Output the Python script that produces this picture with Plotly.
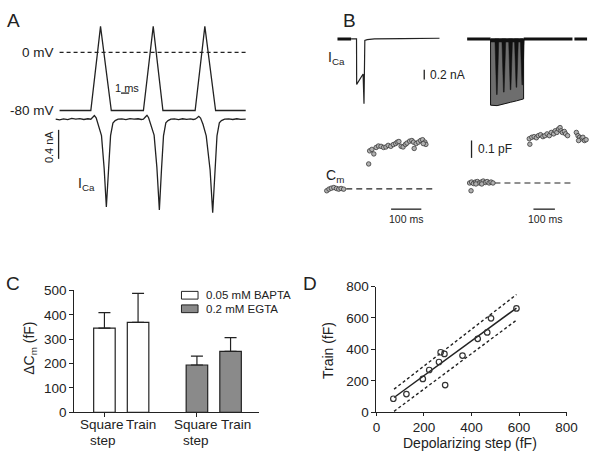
import plotly.graph_objects as go

W, H = 601, 458
FONT = "Liberation Sans, Arial, Helvetica, sans-serif"
INK = "#222222"


def PX(x):
    return x / W


def PY(y):
    return 1 - y / H


# ---------------- Panel A: AP-like voltage train and Ca current ----------------
a_volt_t = [0, 3.86, 5.06, 6.39, 10.36, 11.57, 12.77, 16.75, 17.95, 19.28, 23.0]
a_volt_mv = [-80, -80, 36, -80, -80, 36, -80, -80, 36, -80, -80]
a_zero_t = [0, 23.0]
a_zero_mv = [0, 0]
a_current = [
    (-0.48, 0.0), (0.0, -0.01), (0.5, 0.005), (1.0, -0.006), (1.5, 0.01), (2.0, 0.0),
    (2.5, 0.008), (3.0, -0.004), (3.5, 0.006), (3.86, 0.0), (4.10, 0.027), (4.30, 0.05),
    (4.52, 0.02), (4.78, -0.075), (5.18, -0.227), (5.51, -0.68), (5.78, -1.21), (6.06, -0.68),
    (6.30, -0.227), (6.59, -0.053), (6.87, -0.02), (7.23, 0.0), (7.7, 0.005), (8.2, -0.006),
    (8.7, 0.008), (9.2, 0.0), (9.7, 0.006), (10.1, -0.004), (10.36, 0.0), (10.6, 0.03),
    (10.8, 0.055), (11.0, 0.02), (11.28, -0.07), (11.68, -0.22), (12.02, -0.66), (12.33, -1.25),
    (12.6, -0.68), (12.84, -0.23), (13.13, -0.05), (13.4, -0.02), (13.75, 0.0), (14.2, 0.004),
    (14.7, -0.005), (15.2, 0.006), (15.7, -0.003), (16.2, 0.005), (16.5, -0.004), (16.75, 0.0),
    (17.0, 0.02), (17.2, 0.04), (17.42, 0.015), (17.72, -0.07), (18.12, -0.23), (18.6, -0.7),
    (18.92, -1.29), (19.2, -0.7), (19.45, -0.23), (19.74, -0.05), (20.0, -0.02), (20.4, 0.0),
    (20.9, 0.005), (21.4, -0.004), (21.9, 0.006), (22.4, -0.002), (23.0, 0.0),
]

# ---------------- Panel B left: square step ----------------
bl_hold_t = [-63.5, -18.4]
bl_hold_i = [0.0, 0.0]
bl_current = [
    (-18.4, 0.0), (-0.5, 0.0), (0.0, -0.94), (21.3, -0.726), (24.2, -1.34), (24.8, -0.06),
    (27.0, -0.03), (35.0, -0.015), (59.0, 0.0), (150.0, 0.008), (274.0, 0.014),
]
bl_cm_t = [-99, -91.6, -83.9, -75.5, -66.8, -59.4, -51.6, -43.2,
           39.7, 42.9, 50.3, 56.8, 64.5, 71.9, 80.6, 89.0, 96.8, 104.2, 112.9, 121.3, 129.0,
           134.2, 139.7, 147.1, 153.5, 161.3, 166.5, 175.2, 182.6, 188.1, 190.3, 196.8,
           204.2, 211.6, 218.1, 225.8, 229.0, 220.3]
bl_cm_pf = [-0.012, -0.002, 0.004, 0.008, 0.002, -0.002, 0.002, -0.002,
            0.154, 0.235, 0.244, 0.216, 0.256, 0.265, 0.263, 0.256, 0.259, 0.269, 0.263,
            0.274, 0.280, 0.289, 0.293, 0.263, 0.259, 0.275, 0.283, 0.295, 0.299, 0.289,
            0.250, 0.280, 0.289, 0.299, 0.304, 0.289, 0.275, 0.280]
bl_base_t = [-34.5, 258]
bl_base_pf = [0, 0]

# ---------------- Panel B right: AP train ----------------
br_hold_t = [-107.6, 0, None, 152.5, 376.7, None, 385.7, 443.9]
br_hold_i = [0, 0, None, 0, 0, None, 0, 0]
br_train_t = [0, 0, 30, 60, 92, 120, 152, 152]
br_train_i = [0, -1.37, -1.38, -1.34, -1.31, -1.28, -1.24, 0]
br_spike_t = [29, 61, 92, 119, 146]
br_spike_i = [-1.15, -1.1, -1.05, -1.0, -0.95]
br_cm_t = [-96.4, -87.4, -78.5, -69.5, -60.5, -51.6, -42.6, -33.6, -24.7, -15.7, -6.7, 2.2,
           11.2, -89.7, -67.3, -40.4,
           178.0, 189.7, 200.4, 210.8, 219.7, 230.0, 240.8, 249.8, 260.1, 270.4, 279.4, 290.1,
           297.3, 304.9, 312.6, 319.7, 324.2, 330.5, 339.5, 345.3, 354.3, 180.7, 394.6, 402.2,
           409.4, 417.0, 424.7, 431.8, 439.5, 404.9]
br_cm_pf = [0.0, 0.006, -0.003, 0.006, 0.009, 0.0, 0.006, 0.012, 0.003, 0.009, 0.0, 0.006,
            0.0, -0.048, -0.006, -0.006,
            0.274, 0.283, 0.287, 0.280, 0.293, 0.299, 0.287, 0.293, 0.304, 0.293, 0.313, 0.304,
            0.323, 0.313, 0.334, 0.343, 0.323, 0.313, 0.319, 0.304, 0.293, 0.240, 0.313, 0.293,
            0.283, 0.274, 0.283, 0.263, 0.268, 0.263]
br_base_t = [17.9, 372]
br_base_pf = [0, 0]

# ---------------- Panel C ----------------
c_pos_bapta = [1, 2]
c_pos_egta = [3.75, 4.75]
c_bapta = [345, 369]
c_bapta_err = [64, 119]
c_egta = [194, 250]
c_egta_err = [36, 56]

# ---------------- Panel D ----------------
d_step = [71, 126, 195, 222, 263, 270, 286, 289, 362, 426, 466, 482, 589]
d_train = [86, 116, 212, 269, 320, 382, 371, 173, 361, 467, 508, 598, 661]
d_fit_x = [74, 589]
d_fit_y = [94, 663]
d_upper_y = [147, 749]
d_lower_y = [6, 586]

fig = go.Figure()
line_kw = dict(color=INK, width=1.3)

# A
fig.add_trace(go.Scatter(x=a_zero_t, y=a_zero_mv, mode="lines", xaxis="x", yaxis="y",
                         line=dict(color=INK, width=1.2, dash="4px,3px")))
fig.add_trace(go.Scatter(x=a_volt_t, y=a_volt_mv, mode="lines", xaxis="x", yaxis="y", line=line_kw))
fig.add_trace(go.Scatter(x=[p[0] for p in a_current], y=[p[1] for p in a_current], mode="lines",
                         xaxis="x", yaxis="y2", line=dict(color=INK, width=1.3)))

# B left
fig.add_trace(go.Scatter(x=bl_hold_t, y=bl_hold_i, mode="lines", xaxis="x2", yaxis="y3",
                         line=dict(color="#111", width=3)))
fig.add_trace(go.Scatter(x=[p[0] for p in bl_current], y=[p[1] for p in bl_current], mode="lines",
                         xaxis="x2", yaxis="y3", line=dict(color=INK, width=1.2)))
fig.add_trace(go.Scatter(x=bl_base_t, y=bl_base_pf, mode="lines", xaxis="x2", yaxis="y4",
                         line=dict(color=INK, width=1.2, dash="6px,4px")))
fig.add_trace(go.Scatter(x=bl_cm_t, y=bl_cm_pf, mode="markers", xaxis="x2", yaxis="y4",
                         marker=dict(size=4.5, color="#b0b0b0", line=dict(color="#3a3a3a", width=0.8))))

# B right
fig.add_trace(go.Scatter(x=br_hold_t, y=br_hold_i, mode="lines", xaxis="x3", yaxis="y5",
                         line=dict(color="#111", width=3)))
fig.add_trace(go.Scatter(x=br_train_t, y=br_train_i, mode="lines", fill="toself", fillcolor="#6e6e6e",
                         xaxis="x3", yaxis="y5", line=dict(color="#111", width=1)))
sx, sy = [], []
for t, d in zip(br_spike_t, br_spike_i):
    sx += [t - 9, t + 9, t + 1.5, t - 1.5, t - 9, None]
    sy += [0, 0, d, d, 0, None]
fig.add_trace(go.Scatter(x=sx, y=sy, mode="lines", fill="toself", fillcolor="#111",
                         xaxis="x3", yaxis="y5", line=dict(color="#111", width=0.5)))
fig.add_trace(go.Scatter(x=[0, 152], y=[-0.03, -0.03], mode="lines", xaxis="x3", yaxis="y5",
                         line=dict(color="#111", width=4)))
fig.add_trace(go.Scatter(x=br_base_t, y=br_base_pf, mode="lines", xaxis="x3", yaxis="y6",
                         line=dict(color=INK, width=1.2, dash="6px,4px")))
fig.add_trace(go.Scatter(x=br_cm_t, y=br_cm_pf, mode="markers", xaxis="x3", yaxis="y6",
                         marker=dict(size=4.5, color="#b0b0b0", line=dict(color="#3a3a3a", width=0.8))))

# C
fig.add_trace(go.Bar(x=c_pos_bapta, y=c_bapta, width=0.64, xaxis="x4", yaxis="y7",
                     marker=dict(color="white", line=dict(color=INK, width=1.2)),
                     error_y=dict(type="data", symmetric=False, array=c_bapta_err, arrayminus=[0, 0],
                                  color=INK, thickness=1.2, width=6)))
fig.add_trace(go.Bar(x=c_pos_egta, y=c_egta, width=0.64, xaxis="x4", yaxis="y7",
                     marker=dict(color="#8a8a8a", line=dict(color=INK, width=1.2)),
                     error_y=dict(type="data", symmetric=False, array=c_egta_err, arrayminus=[0, 0],
                                  color=INK, thickness=1.2, width=6)))

# D
fig.add_trace(go.Scatter(x=d_fit_x, y=d_upper_y, mode="lines", xaxis="x5", yaxis="y8",
                         line=dict(color=INK, width=1.4, dash="3px,2.5px")))
fig.add_trace(go.Scatter(x=d_fit_x, y=d_lower_y, mode="lines", xaxis="x5", yaxis="y8",
                         line=dict(color=INK, width=1.4, dash="3px,2.5px")))
fig.add_trace(go.Scatter(x=d_fit_x, y=d_fit_y, mode="lines", xaxis="x5", yaxis="y8",
                         line=dict(color=INK, width=1.5)))
fig.add_trace(go.Scatter(x=d_step, y=d_train, mode="markers", xaxis="x5", yaxis="y8",
                         marker=dict(symbol="circle-open", size=5.5, color="#333", line=dict(width=1.2))))

hidden = dict(visible=False, showgrid=False, zeroline=False, fixedrange=True)
vis = dict(showgrid=False, zeroline=False, showline=True, linecolor=INK, linewidth=1,
           ticks="outside", ticklen=4, tickwidth=1, tickcolor=INK,
           tickfont=dict(family=FONT, size=13.5, color=INK))

fig.update_layout(
    width=W, height=H, margin=dict(l=0, r=0, t=0, b=0),
    paper_bgcolor="white", plot_bgcolor="white", showlegend=False, bargap=0,
    font=dict(family=FONT, color=INK),
    xaxis=dict(hidden, domain=[PX(45), PX(255)], range=[-1.446, 23.855], anchor="y"),
    yaxis=dict(hidden, domain=[PY(111), PY(10)], range=[-85.33, 49.33], anchor="x"),
    yaxis2=dict(hidden, domain=[PY(220), PY(111)], range=[-1.3867, 0.0667], anchor="x"),
    xaxis2=dict(hidden, domain=[PX(325), PX(455)], range=[-118.4, 301.0], anchor="y3"),
    yaxis3=dict(hidden, domain=[PY(110), PY(20)], range=[-1.54, 0.26], anchor="x2"),
    yaxis4=dict(hidden, domain=[PY(200), PY(120)], range=[-0.072, 0.407], anchor="x2"),
    xaxis3=dict(hidden, domain=[PX(465), PX(601)], range=[-152.5, 457.4], anchor="y5"),
    yaxis5=dict(hidden, domain=[PY(110), PY(20)], range=[-1.54, 0.26], anchor="x3"),
    yaxis6=dict(hidden, domain=[PY(200), PY(120)], range=[-0.108, 0.371], anchor="x3"),
    xaxis4=dict(vis, domain=[PX(72), PX(262)], range=[0.1014, 5.609], anchor="y7",
                tickvals=[1, 3.75], showticklabels=False),
    yaxis7=dict(vis, domain=[PY(419), PY(293)], range=[0, 500], anchor="x4",
                tickvals=[0, 100, 200, 300, 400, 500]),
    xaxis5=dict(vis, domain=[PX(382), PX(577)], range=[0, 800], anchor="y8",
                tickvals=[0, 200, 400, 600, 800], ticklen=3),
    yaxis8=dict(vis, domain=[PY(419), PY(289)], range=[0, 800], anchor="x5",
                tickvals=[0, 200, 400, 600, 800]),
)

shapes = []


def hbar(x0, x1, y):
    shapes.append(dict(type="line", xref="paper", yref="paper", x0=PX(x0), x1=PX(x1),
                       y0=PY(y), y1=PY(y), line=dict(color=INK, width=1.3)))


def vbar(x, y0, y1):
    shapes.append(dict(type="line", xref="paper", yref="paper", x0=PX(x), x1=PX(x),
                       y0=PY(y0), y1=PY(y1), line=dict(color=INK, width=1.3)))


hbar(120, 128.3, 89)      # 1 ms
vbar(56, 127, 157)        # 0.4 nA
vbar(431, 65, 75)         # 0.2 nA
vbar(479.5, 138, 156)     # 0.1 pF
hbar(397, 428, 209)       # 100 ms left
hbar(543, 565, 209)       # 100 ms right
for (y0, y1, col) in [(294, 302, "white"), (308, 316, "#8a8a8a")]:
    shapes.append(dict(type="rect", xref="paper", yref="paper", x0=PX(182), x1=PX(199),
                       y0=PY(y1), y1=PY(y0), fillcolor=col, line=dict(color=INK, width=1)))
fig.update_layout(shapes=shapes)

ann = []


def text(s, x, y, size=13.5, xanchor="center", angle=0):
    ann.append(dict(text=s, x=PX(x), y=PY(y), xref="paper", yref="paper", showarrow=False,
                    xanchor=xanchor, yanchor="middle", textangle=angle,
                    font=dict(family=FONT, size=size, color=INK)))


text("A", 10, 14, 19)
text("B", 354, 14, 19)
text("C", 9, 286, 19)
text("D", 314, 286, 19)
text("0 mV", 53, 47, 13.5, "right")
text("-80 mV", 53, 107, 13.5, "right")
text("1 ms", 126.5, 84, 11)
text("0.4 nA", 46, 145, 11, angle=-90)
text("I<sub>Ca</sub>", 74, 183, 14, "left")
text("I<sub>Ca</sub>", 330, 53, 14, "left")
text("0.2 nA", 435, 70, 12, "left")
text("C<sub>m</sub>", 328, 175, 14, "left")
text("0.1 pF", 484, 147, 12, "left")
text("100 ms", 412.5, 219, 10.5)
text("100 ms", 554.5, 219, 10.5)
text("0.05 mM BAPTA", 205, 298, 11.5, "left")
text("0.2 mM EGTA", 205, 312, 11.5, "left")
text("ΔC<sub>m</sub> (fF)", 27, 353, 14, angle=-90)
text("Square", 101, 432, 13.5)
text("step", 101.5, 448, 13.5)
text("Train", 141, 432, 13.5)
text("Square", 197, 432, 13.5)
text("step", 196.5, 448, 13.5)
text("Train", 237.5, 432, 13.5)
text("Train (fF)", 333, 355, 14, angle=-90)
text("Depolarizing step (fF)", 478, 451, 14)
fig.update_layout(annotations=ann)

fig.write_html("out.html", config={"displayModeBar": False, "staticPlot": True},
               post_script="document.body.style.margin='0';document.body.style.overflow='hidden';")
